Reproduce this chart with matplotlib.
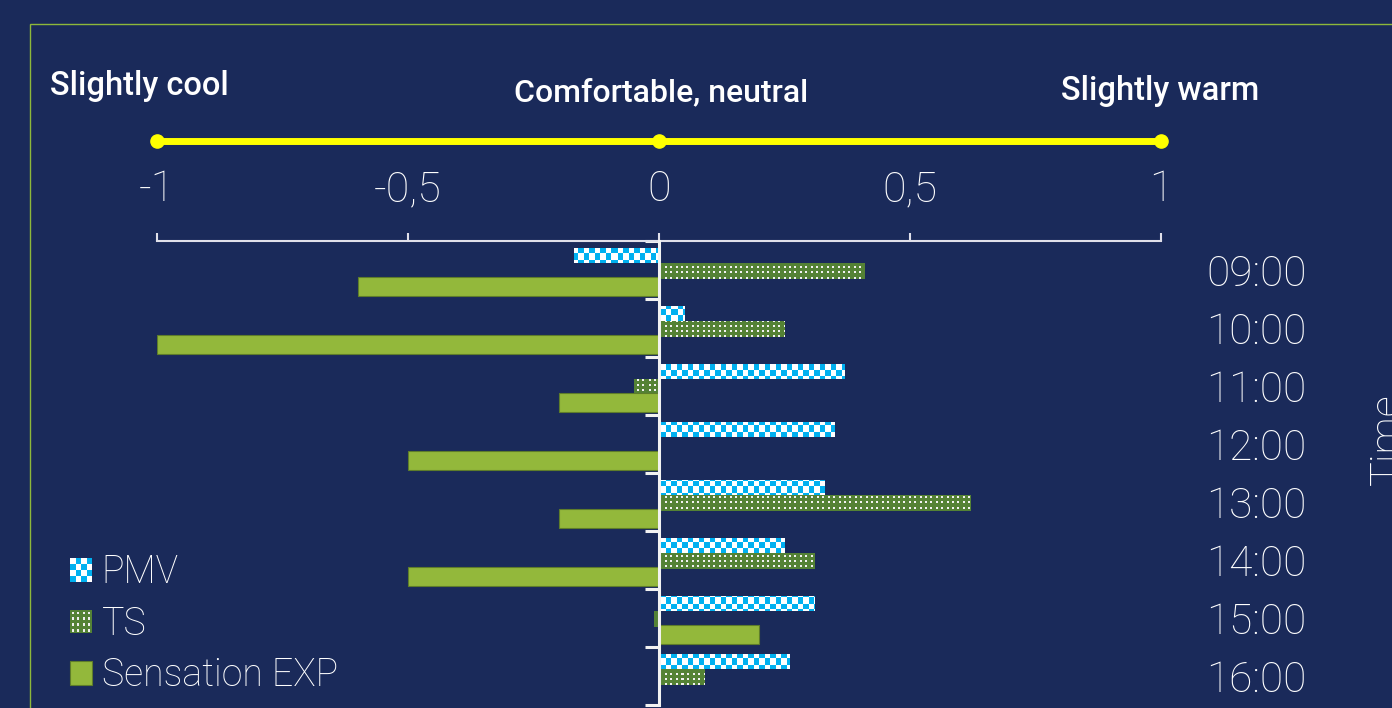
import numpy as np
import matplotlib
matplotlib.use("Agg")
import matplotlib.pyplot as plt
from matplotlib.patches import Rectangle
from matplotlib.legend_handler import HandlerBase
from matplotlib.transforms import blended_transform_factory

# data
times = ['09:00', '10:00', '11:00', '12:00', '13:00', '14:00', '15:00', '16:00']
pmv = [-0.17, 0.05, 0.37, 0.35, 0.33, 0.25, 0.31, 0.26]
ts = [0.41, 0.25, -0.05, 0.0, 0.62, 0.31, -0.01, 0.09]
sensation_exp = [-0.6, -1.0, -0.2, -0.5, -0.2, -0.5, 0.2, 0.0]
series_names = ['PMV', 'TS', 'Sensation EXP']
x_ticks = [-1, -0.5, 0, 0.5, 1]
x_tick_labels = ['-1', '-0,5', '0', '0,5', '1']
scale_points = [-1, 0, 1]
scale_labels = ['Slightly cool', 'Comfortable, neutral', 'Slightly warm']

BG = '#1a2a5a'
BLUE = '#00b0f0'
DKGREEN = '#548235'
LTGREEN = '#93b83b'
WHITE = '#ffffff'

plt.rcParams['font.family'] = ['Roboto', 'DejaVu Sans']

fig = plt.figure(figsize=(13.92, 7.08), dpi=100, facecolor=BG)
W, H = 1392, 708
ax = fig.add_axes([157 / W, 3 / H, 1004 / W, 464 / H])
ax.set_facecolor(BG)

y = np.arange(len(times))
ax.set_xlim(-1, 1)
ax.set_ylim(len(times) - 0.5, -0.5)
ax.set_autoscale_on(False)

b_pmv = ax.barh(y - 0.255, pmv, height=0.265, color=BLUE, zorder=2)
b_ts = ax.barh(y + 0.015, ts, height=0.275, color=DKGREEN, zorder=2)
b_exp = ax.barh(y + 0.29, sensation_exp, height=0.33, color=LTGREEN,
                edgecolor='#5e7d2a', linewidth=0.8, zorder=3)


def pattern_fill(bar, kind):
    # fill a bar with a pixel pattern (checkerboard or dots)
    x0, y0 = bar.get_x(), bar.get_y()
    w, h = bar.get_width(), bar.get_height()
    (px0, py0), (px1, py1) = ax.transData.transform([(x0, y0), (x0 + w, y0 + h)])
    nx = int(round(abs(px1 - px0)))
    ny = int(round(abs(py1 - py0)))
    if nx < 1 or ny < 1:
        return
    ii, jj = np.mgrid[0:ny, 0:nx]
    gx = jj + int(round(min(px0, px1)))
    gy = ii + int(round(min(py0, py1)))
    img = np.zeros((ny, nx, 3))
    if kind == 'check':
        mask = ((gx // 5.5).astype(int) + (gy // 5.5).astype(int)) % 2 == 0
        img[:] = matplotlib.colors.to_rgb(BLUE)
        img[mask] = matplotlib.colors.to_rgb(WHITE)
    else:
        mask = ((gx % 5.4) < 2.0) & ((gy % 5.2) < 2.0)
        img[:] = matplotlib.colors.to_rgb(DKGREEN)
        img[mask] = (0.95, 0.95, 0.95)
    im = ax.imshow(img, extent=(x0, x0 + w, y0 + h, y0), aspect='auto',
                   interpolation='nearest', zorder=2.5)
    im.set_clip_path(bar)


for b in b_pmv:
    pattern_fill(b, 'check')
for b in b_ts:
    pattern_fill(b, 'dots')

ax.set_xlim(-1, 1)
ax.set_ylim(len(times) - 0.5, -0.5)

# axes styling
for s in ['bottom', 'right']:
    ax.spines[s].set_visible(False)
ax.spines['left'].set_position(('data', 0))
ax.spines['left'].set_color('#f2f2f2')
ax.spines['left'].set_linewidth(2.2)
ax.spines['left'].set_zorder(4)
ax.spines['top'].set_color('#e0e0ea')
ax.spines['top'].set_linewidth(1.5)

ax.xaxis.tick_top()
ax.set_xticks(x_ticks)
ax.set_xticklabels(x_tick_labels)
ax.tick_params(axis='x', length=6, width=1.5, color='#e0e0ea', pad=16,
               labelsize=31, labelcolor=WHITE)
for t in ax.get_xticklabels():
    t.set_fontweight('light')

ax.set_yticks(y)
ax.set_yticklabels(times)
ax.set_yticks(np.arange(len(times) + 1) - 0.5, minor=True)
ax.tick_params(axis='y', which='major', left=False, right=False,
               labelleft=False, labelright=True, pad=29, labelsize=30.5,
               labelcolor=WHITE)
ax.tick_params(axis='y', which='minor', left=True, right=False, length=10,
               width=2.2, color='#f2f2f2', direction='out')
for t in ax.get_yticklabels():
    t.set_fontweight('light')

# comfort scale line
tr = blended_transform_factory(ax.transData, ax.transAxes)
ax.plot(scale_points, [1.2155] * len(scale_points), color='#ffff00', lw=5,
        marker='o', ms=9.5, transform=tr, clip_on=False, zorder=5)
fig.text(50 / W, 1 - 95 / H, scale_labels[0], ha='left', va='baseline',
         color=WHITE, fontsize=23.5, fontweight='medium')
fig.text(661 / W, 1 - 101 / H, scale_labels[1], ha='center', va='baseline',
         color=WHITE, fontsize=23, fontweight='medium')
fig.text(1160 / W, 1 - 100 / H, scale_labels[2], ha='center', va='baseline',
         color=WHITE, fontsize=23.5, fontweight='medium')

fig.text(1368 / W, 1 - 439 / H, 'Time', rotation=90, ha='left', va='center',
         color=WHITE, fontsize=30, fontweight='light')

# frame
fig.add_artist(Rectangle((30 / W, -0.05), 1.0, 1 - 24 / H + 0.05,
                         transform=fig.transFigure, fill=False,
                         edgecolor='#8db83a', linewidth=1.0))


# legend
class PatternHandler(HandlerBase):
    def __init__(self, kind):
        super().__init__()
        self.kind = kind

    def create_artists(self, legend, orig_handle, xdescent, ydescent,
                       width, height, fontsize, trans):
        x0, y0 = -xdescent, -ydescent
        n = 4
        cw, ch = width / n, height / n
        arts = []
        if self.kind == 'check':
            arts.append(Rectangle((x0, y0), width, height, facecolor=WHITE,
                                  edgecolor='none', transform=trans))
            for i in range(n):
                for j in range(n):
                    if (i + j) % 2 == 0:
                        arts.append(Rectangle((x0 + i * cw, y0 + j * ch), cw, ch,
                                              facecolor=BLUE, edgecolor='none',
                                              transform=trans))
        elif self.kind == 'dots':
            arts.append(Rectangle((x0, y0), width, height, facecolor=DKGREEN,
                                  edgecolor='none', transform=trans))
            for i in range(n):
                for j in range(n):
                    arts.append(Rectangle((x0 + (i + 0.3) * cw, y0 + (j + 0.3) * ch),
                                          cw * 0.4, ch * 0.4, facecolor='#f0f0f0',
                                          edgecolor='none', transform=trans))
        else:
            arts.append(Rectangle((x0, y0), width, height, facecolor=LTGREEN,
                                  edgecolor='#5e7d2a', linewidth=0.8,
                                  transform=trans))
        return arts


h_pmv, h_ts, h_exp = b_pmv[0], b_ts[0], b_exp[0]
leg = fig.legend([h_pmv, h_ts, h_exp], series_names, loc='center left',
                 bbox_to_anchor=(70 / W, 1 - 624 / H), frameon=False,
                 fontsize=27, handlelength=0.59, handleheight=0.59,
                 handletextpad=0.25, labelspacing=0.38, borderpad=0,
                 borderaxespad=0,
                 handler_map={h_pmv: PatternHandler('check'),
                              h_ts: PatternHandler('dots'),
                              h_exp: PatternHandler('solid')})
for t in leg.get_texts():
    t.set_color(WHITE)
    t.set_fontweight('light')

fig.savefig('out.png', dpi=100, facecolor=BG)
